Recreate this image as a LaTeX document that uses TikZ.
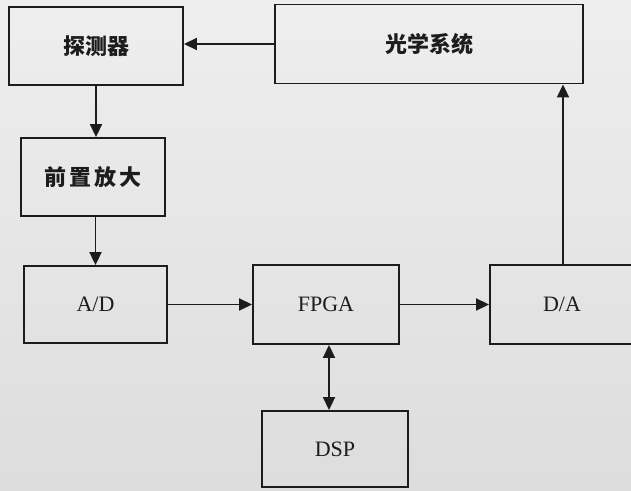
\documentclass[tikz,border=0pt]{standalone}
\usepackage{fontspec}
\setmainfont{Liberation Serif}
\newfontfamily\cjk{Noto Sans CJK SC}
\usetikzlibrary{arrows.meta,positioning}
\definecolor{ink}{HTML}{1C1C1C}
\definecolor{paperhi}{HTML}{EEEEEE}
\definecolor{paperlo}{HTML}{DDDDDD}
\tikzset{
  >={Triangle[length=13pt,width=12pt]},
  every picture/.style={line width=1.9pt,draw=ink},
  bx/.style={draw=ink,minimum height=78pt,align=center,inner sep=0pt,text=ink},
  bxc/.style={bx,font=\cjk\bfseries\fontsize{22}{24}\selectfont},
  bxl/.style={bx,font=\fontsize{22}{24}\selectfont},
  arr/.style={->,draw=ink},
}
\begin{document}
\begin{tikzpicture}[x=1pt,y=-1pt]
  \shade[top color=paperhi,bottom color=paperlo] (0,0) rectangle (631,490);
  \useasboundingbox (0,0) rectangle (631,490);
  % top row
  \node[bxc,minimum width=174pt] (det) at (96,46) {探测器};
  \node[bxc,minimum width=308pt,minimum height=79pt] (opt) at (429,44) {光学系统};
  \node[bxc,minimum width=144pt] (pre) at (93,177) {前\hspace{3pt}置\hspace{3pt}放\hspace{3pt}大};
  % signal chain
  \node[bxl,minimum width=143pt,minimum height=77pt] (ad) at (95.5,304.5) {A/D};
  \node[bxl,minimum width=146pt,minimum height=79pt] (fpga) at (326,304.5) {FPGA};
  \node[bxl,minimum width=170pt,minimum height=79pt,text width=144pt] (da) at (575,304.5) {\hspace*{-26pt}D/A};
  \node[bxl,minimum width=146pt,minimum height=76pt] (dsp) at (335,449) {DSP};
  \draw[arr] (opt.west) -- (opt.west -| det.east);
  \draw[arr] (det.south) -- (det.south |- pre.north);
  \draw[arr] (ad.north |- pre.south) -- (ad.north);
  \draw[arr] (ad.east) -- (fpga.west);
  \draw[arr] (fpga.east) -- (da.west);
  \draw[arr] ([xshift=-12pt]da.north) -- ([xshift=-12pt]da.north |- opt.south);
  \draw[<->] ([xshift=3pt]fpga.south) -- ([xshift=3pt]fpga.south |- dsp.north);
\end{tikzpicture}
\end{document}
